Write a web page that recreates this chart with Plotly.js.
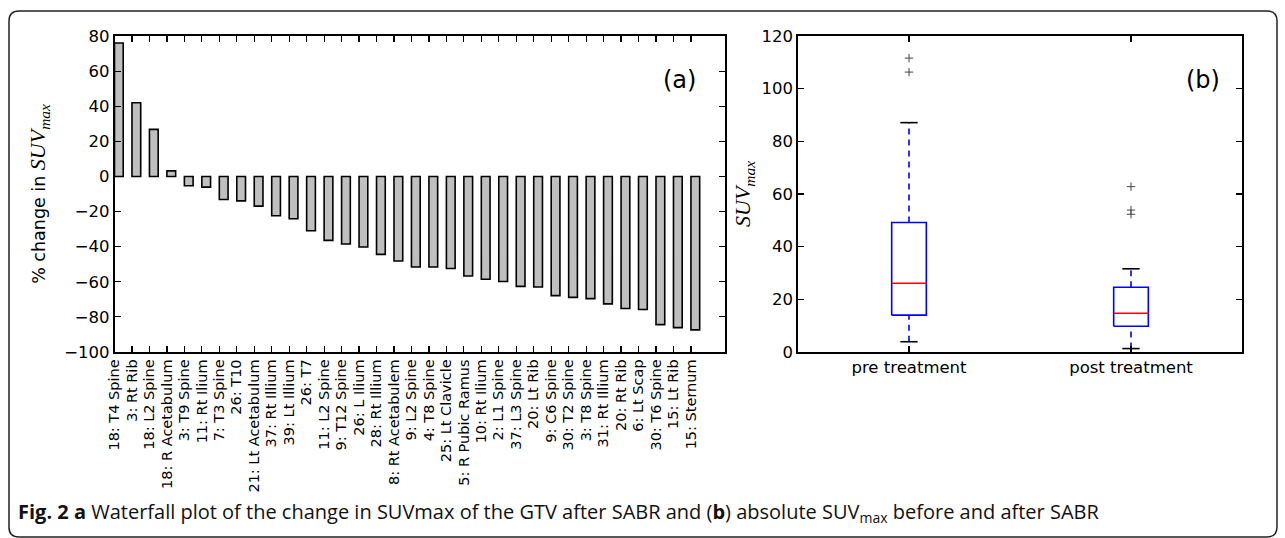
<!DOCTYPE html>
<html>
<head>
<meta charset="utf-8">
<script src="https://cdn.plot.ly/plotly-3.0.1.min.js"></script>
<style>
  html, body { margin: 0; padding: 0; background: #fff; }
  #chart { width: 1285px; height: 538px; }
</style>
</head>
<body>
<div id="chart"></div>
<script>
// ---- Panel (a): waterfall of % change in SUVmax ----
const lesionLabels = [
  "18: T4 Spine", "3: Rt Rib", "18: L2 Spine", "18: R Acetabulum", "3: T9 Spine",
  "11: Rt Ilium", "7: T3 Spine", "26: T10", "21: Lt Acetabulum", "37: Rt Illium",
  "39: Lt Illium", "26: T7", "11: L2 Spine", "9: T12 Spine", "26: L Ilium",
  "28: Rt Illium", "8: Rt Acetabulem", "9: L2 Spine", "4: T8 Spine", "25: Lt Clavicle",
  "5: R Pubic Ramus", "10: Rt Ilium", "2: L1 Spine", "37: L3 Spine", "20: Lt Rib",
  "9: C6 Spine", "30: T2 Spine", "3: T8 Spine", "31: Rt Illium", "20: Rt Rib",
  "6: Lt Scap", "30: T6 Spine", "15: Lt Rib", "15: Sternum"
];
const pctChange = [
  76.0, 42.0, 26.8, 3.2, -5.3,
  -6.1, -13.1, -13.9, -16.9, -22.4,
  -24.1, -30.9, -36.4, -38.5, -40.2,
  -44.4, -48.2, -51.6, -51.6, -52.4,
  -56.7, -58.6, -59.8, -62.6, -63.0,
  -67.9, -68.9, -69.6, -72.6, -75.2,
  -75.8, -84.4, -86.1, -87.4
];
const yTicksA = [-100, -80, -60, -40, -20, 0, 20, 40, 60, 80];

// ---- Panel (b): box plot of absolute SUVmax ----
const groups = ["pre treatment", "post treatment"];
const groupPos = [1, 2];
const lowerWhisker = [3.9, 1.3];
const q1 = [14.0, 9.8];
const median = [26.1, 14.7];
const q3 = [49.2, 24.6];
const upperWhisker = [87.1, 31.6];
const outliers = [[106.3, 111.6], [52.3, 53.9, 62.8]];
const yTicksB = [0, 20, 40, 60, 80, 100, 120];

// ---- style constants ----
const W = 1285, H = 538;
const tickFont = {family: "DejaVu Sans", size: 16.5, color: "#000"};
const BOX_HALF = 0.078, CAP_HALF = 0.039;
const BLUE = "#0000ff", RED = "#ff0000";

// build box plot geometry from the statistics arrays
const boxX = [], boxY = [], whX = [], whY = [], capX = [], capY = [], medX = [], medY = [];
const outX = [], outY = [];
groups.forEach((g, i) => {
  const p = groupPos[i];
  boxX.push(p - BOX_HALF, p + BOX_HALF, p + BOX_HALF, p - BOX_HALF, p - BOX_HALF, null);
  boxY.push(q1[i], q1[i], q3[i], q3[i], q1[i], null);
  whX.push(p, p, null, p, p, null);
  whY.push(lowerWhisker[i], q1[i], null, q3[i], upperWhisker[i], null);
  capX.push(p - CAP_HALF, p + CAP_HALF, null, p - CAP_HALF, p + CAP_HALF, null);
  capY.push(lowerWhisker[i], lowerWhisker[i], null, upperWhisker[i], upperWhisker[i], null);
  medX.push(p - BOX_HALF, p + BOX_HALF, null);
  medY.push(median[i], median[i], null);
  outliers[i].forEach(v => { outX.push(p); outY.push(v); });
});

const traces = [
  {
    type: "bar", x: lesionLabels, y: pctChange, xaxis: "x", yaxis: "y",
    offset: 0, width: 0.5,
    marker: {color: "#bfbfbf", line: {color: "#000", width: 1.6}},
    hoverinfo: "x+y", showlegend: false
  },
  {type: "scatter", mode: "lines", x: whX, y: whY, xaxis: "x2", yaxis: "y2",
   line: {color: BLUE, width: 1.6, dash: "6px,5px"}, showlegend: false, hoverinfo: "skip"},
  {type: "scatter", mode: "lines", x: boxX, y: boxY, xaxis: "x2", yaxis: "y2",
   line: {color: BLUE, width: 1.6}, showlegend: false, hoverinfo: "skip"},
  {type: "scatter", mode: "lines", x: capX, y: capY, xaxis: "x2", yaxis: "y2",
   line: {color: "#000", width: 1.6}, showlegend: false, hoverinfo: "skip"},
  {type: "scatter", mode: "lines", x: medX, y: medY, xaxis: "x2", yaxis: "y2",
   line: {color: RED, width: 1.6}, showlegend: false, hoverinfo: "skip"},
  {type: "scatter", mode: "markers", x: outX, y: outY, xaxis: "x2", yaxis: "y2",
   marker: {symbol: "cross-thin", size: 6, line: {color: "#444", width: 1}},
   showlegend: false, hoverinfo: "y"}
];

const yDom = [1 - 352 / H, 1 - 36 / H];
const axisCommon = {
  showline: true, linecolor: "#000", linewidth: 1.6, mirror: "allticks",
  ticks: "inside", ticklen: 6, tickwidth: 1.2, tickcolor: "#000",
  showgrid: false, zeroline: false, tickfont: tickFont
};

// rounded frame path in paper coordinates
function roundedRect(x0, y0, x1, y1, r) {
  const px = v => (v / W).toFixed(5), py = v => (1 - v / H).toFixed(5);
  return `M${px(x0 + r)},${py(y0)} L${px(x1 - r)},${py(y0)} Q${px(x1)},${py(y0)} ${px(x1)},${py(y0 + r)} ` +
         `L${px(x1)},${py(y1 - r)} Q${px(x1)},${py(y1)} ${px(x1 - r)},${py(y1)} ` +
         `L${px(x0 + r)},${py(y1)} Q${px(x0)},${py(y1)} ${px(x0)},${py(y1 - r)} ` +
         `L${px(x0)},${py(y0 + r)} Q${px(x0)},${py(y0)} ${px(x0 + r)},${py(y0)} Z`;
}

const suvMax = '<span style="font-family:\'Liberation Serif\';font-size:22px"><i>SUV</i><sub><i>max</i></sub></span>';

const layout = {
  width: W, height: H,
  margin: {l: 0, r: 0, t: 0, b: 0},
  paper_bgcolor: "#fff", plot_bgcolor: "#fff",
  showlegend: false,
  bargap: 0,
  xaxis: Object.assign({}, axisCommon, {
    domain: [114.5 / W, 725 / W], anchor: "y", type: "category",
    range: [0, 34.95], tickangle: -90,
    tickfont: {family: "DejaVu Sans", size: 14.5, color: "#000"}
  }),
  yaxis: Object.assign({}, axisCommon, {
    domain: yDom, anchor: "x", range: [-100, 80], tickvals: yTicksA,
    title: {text: "% change in " + suvMax, font: {family: "DejaVu Sans", size: 17.5, color: "#000"}, standoff: 14}
  }),
  xaxis2: Object.assign({}, axisCommon, {
    domain: [798 / W, 1242 / W], anchor: "y2", range: [0.5, 2.5],
    tickvals: groupPos, ticktext: groups
  }),
  yaxis2: Object.assign({}, axisCommon, {
    domain: yDom, anchor: "x2", range: [0, 120], tickvals: yTicksB,
    title: {text: suvMax, font: {family: "DejaVu Sans", size: 17.5, color: "#000"}, standoff: 6}
  }),
  annotations: [
    {xref: "x domain", yref: "y domain", x: 0.955, y: 0.86, text: "(a)", showarrow: false,
     xanchor: "right", yanchor: "middle", font: {family: "DejaVu Sans", size: 24, color: "#000"}},
    {xref: "x2 domain", yref: "y2 domain", x: 0.955, y: 0.86, text: "(b)", showarrow: false,
     xanchor: "right", yanchor: "middle", font: {family: "DejaVu Sans", size: 24, color: "#000"}},
    {xref: "paper", yref: "paper", x: 16 / W, y: 1 - 512 / H, xanchor: "left", yanchor: "middle",
     showarrow: false, align: "left",
     text: "<b>Fig. 2 a</b> Waterfall plot of the change in SUVmax of the GTV after SABR and (<b>b</b>) absolute SUV<sub>max</sub> before and after SABR",
     font: {family: "Open Sans", size: 20, color: "#111"}}
  ],
  shapes: [
    {type: "path", xref: "paper", yref: "paper", path: roundedRect(9, 11, 1277, 537, 10),
     line: {color: "#222", width: 1.5}, fillcolor: "rgba(0,0,0,0)"}
  ]
};

Plotly.newPlot("chart", traces, layout, {staticPlot: true, displayModeBar: false});
</script>
</body>
</html>
